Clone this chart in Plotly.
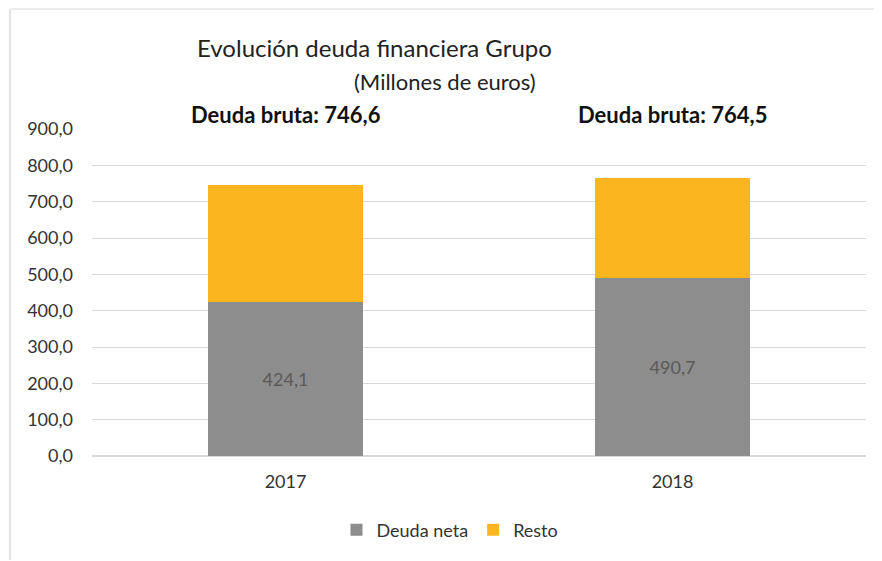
import plotly.graph_objects as go

years = ["2017", "2018"]
deuda_neta = [424.1, 490.7]
deuda_bruta = [746.6, 764.5]
resto = [round(b - n, 1) for b, n in zip(deuda_bruta, deuda_neta)]

FONT = "Lato, 'Open Sans', sans-serif"

# plot area in page pixels: x 92..866, y 129..456
X0, W = 92, 774
Y0, H = 456, 327


def px(x):
    return (x - X0) / W


def py(y):
    return (Y0 - y) / H


fig = go.Figure()

fig.add_trace(
    go.Bar(
        x=years,
        y=deuda_neta,
        name="Deuda neta",
        marker=dict(color="#8d8d8d", line=dict(width=0)),
        text=[f"{v:.1f}".replace(".", ",") for v in deuda_neta],
        textposition="inside",
        insidetextanchor="middle",
        textfont=dict(color="#5a5a5a", size=18, family=FONT),
        width=0.4,
    )
)

fig.add_trace(
    go.Bar(
        x=years,
        y=resto,
        name="Resto",
        marker=dict(color="#fbb61f", line=dict(width=0)),
        width=0.4,
    )
)

# deuda bruta labels above the bars (x as category index)
for i, b in enumerate(deuda_bruta):
    fig.add_annotation(
        x=i,
        y=py(115),
        xref="x",
        yref="paper",
        xanchor="center",
        yanchor="middle",
        text="<b>Deuda bruta: " + f"{b:.1f}".replace(".", ",") + "</b>",
        showarrow=False,
        font=dict(size=22, color="#111111", family=FONT),
    )

# title and subtitle
fig.add_annotation(
    x=px(374),
    y=py(48),
    xref="paper",
    yref="paper",
    xanchor="center",
    yanchor="middle",
    text="Evolución deuda financiera Grupo",
    showarrow=False,
    font=dict(size=24, color="#222222", family=FONT),
)
fig.add_annotation(
    x=px(445),
    y=py(82),
    xref="paper",
    yref="paper",
    xanchor="center",
    yanchor="middle",
    text="(Millones de euros)",
    showarrow=False,
    font=dict(size=22, color="#222222", family=FONT),
)

# faint outer frame (left and top edges)
fig.add_shape(
    type="line",
    xref="paper",
    yref="paper",
    x0=px(10),
    x1=px(10),
    y0=py(560),
    y1=py(9),
    line=dict(color="#e2e2e2", width=2),
)
fig.add_shape(
    type="line",
    xref="paper",
    yref="paper",
    x0=px(10),
    x1=px(882),
    y0=py(9),
    y1=py(9),
    line=dict(color="#ececec", width=2),
)

fig.update_layout(
    barmode="stack",
    width=874,
    height=553,
    margin=dict(l=84, r=16, t=121, b=105, autoexpand=False),
    paper_bgcolor="white",
    plot_bgcolor="white",
    separators=",.",
    font=dict(family=FONT, color="#333333"),
    xaxis=dict(
        type="category",
        range=[-0.5, 1.5],
        showgrid=False,
        showline=False,
        ticks="",
        ticklabelstandoff=13,
        tickfont=dict(size=18, color="#333333"),
    ),
    yaxis=dict(
        range=[0, 900],
        dtick=100,
        tickformat=".1f",
        showgrid=True,
        gridcolor="#d9d9d9",
        gridwidth=1,
        zeroline=True,
        zerolinecolor="#d9d9d9",
        showline=False,
        ticks="",
        ticklabelstandoff=18,
        tickfont=dict(size=18, color="#333333"),
    ),
    showlegend=True,
    legend=dict(
        orientation="h",
        x=px(450),
        xanchor="center",
        y=py(530),
        yanchor="middle",
        font=dict(size=18, color="#333333"),
        itemwidth=30,
        traceorder="normal",
    ),
)

fig.write_html("out.html")
